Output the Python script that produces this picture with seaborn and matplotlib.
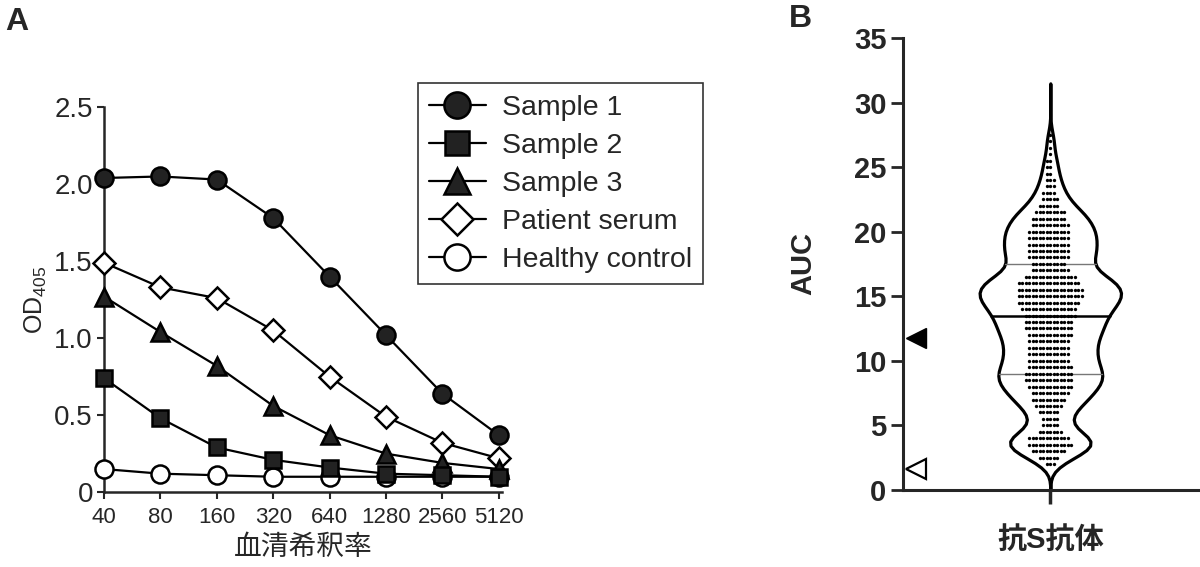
import numpy as np
import pandas as pd
import matplotlib.pyplot as plt
import seaborn as sns

# ---- panel A data: OD405 by serum dilution ----
dilutions = ["40", "80", "160", "320", "640", "1280", "2560", "5120"]
sample1 = [2.04, 2.05, 2.03, 1.78, 1.40, 1.02, 0.64, 0.37]
sample2 = [0.74, 0.48, 0.29, 0.21, 0.16, 0.12, 0.11, 0.10]
sample3 = [1.27, 1.04, 0.82, 0.56, 0.37, 0.25, 0.19, 0.15]
patient_serum = [1.49, 1.33, 1.26, 1.05, 0.75, 0.49, 0.32, 0.22]
healthy_control = [0.15, 0.12, 0.11, 0.10, 0.10, 0.10, 0.10, 0.10]
series_names = ["Sample 1", "Sample 2", "Sample 3", "Patient serum", "Healthy control"]

# ---- panel B data: AUC values (read as counts per 0.5 level) ----
auc_levels = [2.0, 2.5, 3.0, 3.5, 4.0, 4.5, 5.0, 5.5, 6.0, 6.5,
              7.0, 7.5, 8.0, 8.5, 9.0, 9.5, 10.0, 10.5, 11.0, 11.5,
              12.0, 12.5, 13.0, 13.5, 14.0, 14.5, 15.0, 15.5, 16.0, 16.5,
              17.0, 17.5, 18.0, 18.5, 19.0, 19.5, 20.0, 20.5, 21.0, 21.5,
              22.0, 22.5, 23.0, 23.5, 24.0, 24.5, 25.0, 25.5, 26.0, 26.5,
              27.0, 27.5]
auc_counts = [3, 6, 10, 13, 12, 7, 5, 5, 6, 8,
              10, 11, 13, 14, 14, 13, 12, 12, 12, 12,
              13, 14, 14, 15, 16, 18, 19, 19, 18, 15,
              11, 10, 12, 12, 12, 12, 12, 11, 10, 9,
              6, 5, 4, 3, 3, 2, 2, 2, 1, 1,
              1, 1]
group_label = "抗S抗体"
sample_auc = 11.8
control_auc = 1.6

sns.set_style("ticks")
plt.rcParams["font.family"] = ["Liberation Sans", "Noto Sans CJK JP"]
plt.rcParams["mathtext.fontset"] = "custom"
plt.rcParams["mathtext.rm"] = "Liberation Sans"

fig = plt.figure(figsize=(12, 5.67), dpi=100)
ax_a = fig.add_axes([0.0867, 0.132, 0.3313, 0.679])
ax_b = fig.add_axes([0.7525, 0.136, 0.2455, 0.797])

# ---- panel A ----
values = {"Sample 1": sample1, "Sample 2": sample2, "Sample 3": sample3,
          "Patient serum": patient_serum, "Healthy control": healthy_control}
styles = {"Sample 1": ("o", "#222222", 13),
          "Sample 2": ("s", "#222222", 11.5),
          "Sample 3": ("^", "#222222", 13),
          "Patient serum": ("D", "white", 11),
          "Healthy control": ("o", "white", 13)}
for i, name in enumerate(series_names[::-1]):
    m, fc, ms = styles[name]
    sns.lineplot(x=dilutions, y=values[name], ax=ax_a, sort=False, color="black",
                 linewidth=1.6, marker=m, markersize=ms, markerfacecolor=fc,
                 markeredgecolor="black", markeredgewidth=1.8, label=name,
                 zorder=3 + i, clip_on=False)

ax_a.set_xlim(0, 7.05)
ax_a.set_ylim(0, 2.5)
ax_a.set_yticks([0, 0.5, 1.0, 1.5, 2.0, 2.5])
ax_a.set_yticklabels(["0", "0.5", "1.0", "1.5", "2.0", "2.5"])
ax_a.tick_params(axis="y", labelsize=20, width=1.5, length=5, pad=3)
ax_a.tick_params(axis="x", labelsize=16, width=1.5, length=5, pad=6)
for s in ["left", "bottom"]:
    ax_a.spines[s].set_linewidth(1.8)
sns.despine(ax=ax_a)
ax_a.set_ylabel(r"OD$_{\mathregular{405}}$", fontsize=18, labelpad=4)
ax_a.set_xlabel("血清希釈率", fontsize=20, labelpad=5)

handles, labels = ax_a.get_legend_handles_labels()
hmap = dict(zip(labels, handles))
leg = ax_a.legend([hmap[n] for n in series_names], series_names,
                  loc="upper left", bbox_to_anchor=(0.348, 0.853),
                  bbox_transform=fig.transFigure, fontsize=20.5, frameon=True,
                  fancybox=False, edgecolor="black", handlelength=2.0,
                  labelspacing=0.42, borderpad=0.4, handletextpad=0.55,
                  borderaxespad=0, markerscale=1.45)
leg.get_frame().set_linewidth(1.2)

# ---- panel B ----
auc = np.repeat(auc_levels, auc_counts)
df_b = pd.DataFrame({"group": group_label, "AUC": auc})
sns.violinplot(data=df_b, x="group", y="AUC", ax=ax_b, inner="quart",
               color="white", linecolor="black", linewidth=2.3, width=0.48,
               bw_adjust=0.4, cut=6, inner_kws={"dashes": (None, None)})
for j, ln in enumerate(ax_b.lines):
    if j == 1:
        ln.set_linewidth(1.8)
        ln.set_color("black")
    else:
        ln.set_linewidth(1.0)
        ln.set_color("#777777")
sns.swarmplot(data=df_b, x="group", y="AUC", ax=ax_b, color="black", size=2.4)

ax_b.plot([-0.455], [sample_auc], marker="<", markersize=15, color="black",
          markeredgecolor="black", clip_on=False)
ax_b.plot([-0.455], [control_auc], marker="<", markersize=15, markerfacecolor="white",
          markeredgecolor="black", markeredgewidth=1.6, clip_on=False)

ax_b.set_xlim(-0.5, 0.5)
ax_b.set_ylim(0, 35)
ax_b.set_yticks(range(0, 36, 5))
ax_b.tick_params(axis="y", labelsize=21, width=2, length=9, pad=3)
ax_b.tick_params(axis="x", labelsize=21, width=2.5, length=10, pad=16)
for t in ax_b.get_yticklabels() + ax_b.get_xticklabels():
    t.set_fontweight("bold")
for s in ["left", "bottom"]:
    ax_b.spines[s].set_linewidth(2.2)
sns.despine(ax=ax_b)
ax_b.set_xlabel("")
ax_b.set_ylabel("AUC", fontsize=21, fontweight="bold", labelpad=26)

fig.text(0.004, 0.962, "A", fontsize=23, fontweight="bold", va="center")
fig.text(0.657, 0.967, "B", fontsize=23, fontweight="bold", va="center")

fig.savefig("out.png", dpi=100)
